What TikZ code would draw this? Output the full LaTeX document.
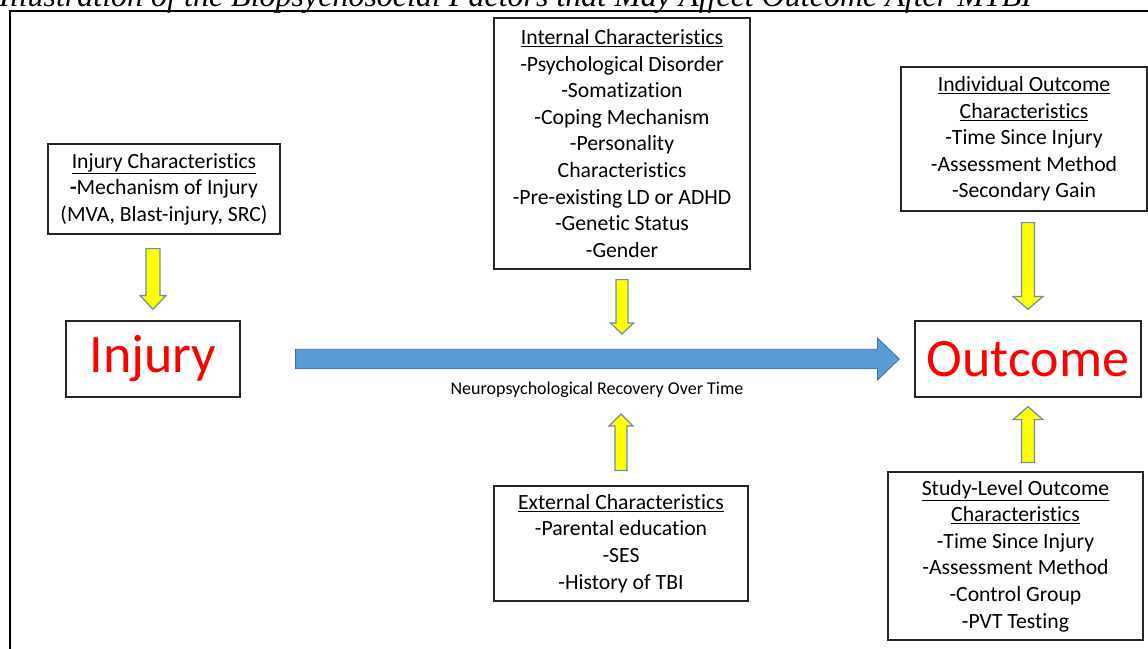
\documentclass[tikz,border=0pt]{standalone}
\usepackage{fontspec}
\setmainfont{Carlito}[Ligatures=NoCommon]
\newfontfamily\titlefont{Liberation Serif}
\usetikzlibrary{calc,positioning}

\definecolor{recblue}{RGB}{91,155,213}
\definecolor{recedge}{RGB}{65,113,156}
\definecolor{factyellow}{RGB}{255,255,0}
\definecolor{factedge}{RGB}{110,140,175}

% block arrow: style, half shaft, half head, head length, from, to
\newcommand{\blockarrow}[6]{%
  \coordinate (ba-h) at ($(#6)!#4!(#5)$);
  \filldraw[#1] ($(#5)!#2!90:(#6)$) -- ($(ba-h)!#2!-90:(#5)$)
    -- ($(ba-h)!#3!-90:(#5)$) -- (#6) -- ($(ba-h)!#3!90:(#5)$)
    -- ($(ba-h)!#2!90:(#5)$) -- ($(#5)!#2!-90:(#6)$) -- cycle;}

\begin{document}
\begin{tikzpicture}[
  x=1pt, y=-1pt,
  box/.style={draw=black!85, line width=1.2pt, align=center, inner sep=0pt,
              font=\fontsize{21.7pt}{26.6pt}\selectfont},
  bigbox/.style={box, text=red, font=\fontsize{54pt}{60pt}\selectfont},
  yarrow/.style={fill=factyellow, draw=factedge, line width=1.2pt, line join=miter},
  barrow/.style={fill=recblue, draw=recedge, line width=0.8pt, line join=miter}]
\useasboundingbox (0,0) rectangle (1148,648);
\node[anchor=base west, inner sep=0pt,
      font=\titlefont\itshape\fontsize{32pt}{34pt}\selectfont] (title) at (-1,6)
  {Illustration of the Biopsychosocial Factors that May Affect Outcome After MTBI};
\draw[line width=2pt] (10,700) |- (1170,11);

\node[box, minimum width=232pt, minimum height=90pt] (injchar) at (164,189)
  {\underline{Injury Characteristics}\\\textbf{-}Mechanism of Injury\\(MVA, Blast-injury, SRC)};
\node[bigbox, minimum width=174pt, minimum height=76pt] (injury) at (153,359) {Injury};
\node[box, minimum width=256pt, minimum height=251pt] (internal) at (622,143.5)
  {\underline{Internal Characteristics}\\-Psychological Disorder\\-Somatization\\
   -Coping Mechanism\\-Personality\\Characteristics\\-Pre-existing LD or ADHD\\
   -Genetic Status\\-Gender};
\node[box, minimum width=254pt, minimum height=115pt] (external) at (621,543.5)
  {\underline{External Characteristics}\\-Parental education\\-SES\\-History of TBI};
\node[box, minimum width=246pt, minimum height=144pt] (indiv) at (1024,139)
  {\underline{Individual Outcome}\\\underline{Characteristics}\\-Time Since Injury\\
   -Assessment Method\\-Secondary Gain};
\node[bigbox, minimum width=226pt, minimum height=76pt] (outcome) at (1028,359) {Outcome};
\node[box, minimum width=255pt, minimum height=168pt] (study) at (1015.5,556)
  {\underline{Study-Level Outcome}\\\underline{Characteristics}\\-Time Since Injury\\
   -Assessment Method\\-Control Group\\-PVT Testing};

% recovery arrow
\coordinate (rec-from) at ($(injury.east)+(55,0)$);
\coordinate (rec-to) at ($(outcome.west)+(-15,0)$);
\blockarrow{barrow}{9.75pt}{21pt}{22pt}{rec-from}{rec-to}
\node[font=\fontsize{18pt}{20pt}\selectfont] (rec-label) at (597,390)
  {Neuropsychological Recovery Over Time};

% factor arrows
\coordinate (ic-from) at ($(injury.north |- injchar.south)+(0,14)$);
\coordinate (ic-to) at ($(injury.north)+(0,-11)$);
\blockarrow{yarrow}{7pt}{13pt}{14pt}{ic-from}{ic-to}
\coordinate (in-from) at ($(internal.south)+(0,10)$);
\coordinate (in-to) at ($(internal.south |- rec-from)+(0,-25)$);
\blockarrow{yarrow}{6pt}{11.5pt}{11pt}{in-from}{in-to}
\coordinate (ex-from) at ($(external.north)+(0,-15)$);
\coordinate (ex-to) at ($(external.north |- rec-from)+(0,55)$);
\blockarrow{yarrow}{6pt}{12pt}{12pt}{ex-from}{ex-to}
\coordinate (io-from) at ($(outcome.north |- indiv.south)+(0,11)$);
\coordinate (io-to) at ($(outcome.north)+(0,-11)$);
\blockarrow{yarrow}{6.5pt}{15pt}{13pt}{io-from}{io-to}
\coordinate (so-from) at ($(outcome.south |- study.north)+(0,-9)$);
\coordinate (so-to) at ($(outcome.south)+(0,9)$);
\blockarrow{yarrow}{6.5pt}{15pt}{13pt}{so-from}{so-to}
\end{tikzpicture}
\end{document}
